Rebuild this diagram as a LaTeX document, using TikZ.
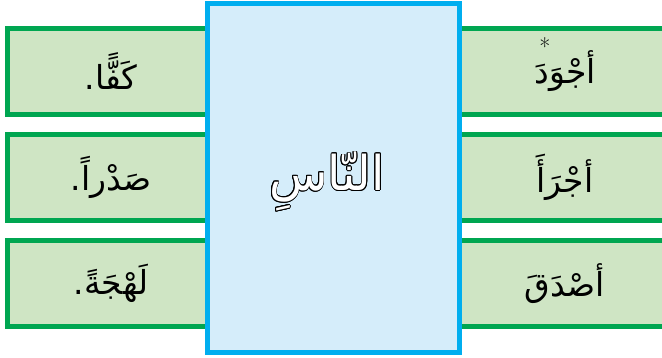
\documentclass[tikz,border=0pt]{standalone}
\usepackage{fontspec}
\usepackage{contour}
\TeXXeTstate=1
\newfontfamily\arabicfont[Script=Arabic]{DejaVu Sans}
\definecolor{gborder}{HTML}{00A651}
\definecolor{gfill}{HTML}{CFE5C4}
\definecolor{bborder}{HTML}{00AEEF}
\definecolor{bfill}{HTML}{D5EDFA}
\contourlength{0.8pt}
\contournumber{16}
\tikzset{
  wordbox/.style={draw=gborder, fill=gfill, line width=5pt, minimum height=86pt,
    inner sep=0pt, font=\arabicfont\fontsize{33}{38}\selectfont},
  leftbox/.style={wordbox, minimum width=208pt},
  rightbox/.style={wordbox, minimum width=230pt},
  centerbox/.style={draw=bborder, fill=bfill, line width=5pt, minimum width=252pt,
    minimum height=349pt, inner sep=0pt},
  centertext/.style={font=\arabicfont\fontsize{48}{52}\selectfont},
  starmark/.style={font=\fontsize{24}{26}\selectfont, inner sep=0pt}
}
\begin{document}
\begin{tikzpicture}[x=1pt,y=-1pt]
\useasboundingbox (0,0) rectangle (662,358);
\clip (0,0) rectangle (662,358);
% left boxes
\node[leftbox] (l1) at (111,71.5) {\beginR كَفًّا.\endR};
\node[leftbox] (l2) at (111,177.5) {\beginR صَدْراً.\endR};
\node[leftbox] (l3) at (111,283.5) {\beginR لَهْجَةً.\endR};
% right boxes
\node[rightbox] (r1) at (565,71.5) {\beginR أجْوَدَ\endR};
\node[rightbox] (r2) at (565,177.5) {\beginR أجْرَأَ\endR};
\node[rightbox] (r3) at (565,283.5) {\beginR أصْدَقَ\endR};
\node[starmark] (star) at (545,47) {*};
% central box
\node[centerbox] (c) at (333.5,178) {};
\node[centertext] (ct) at (327,182) {\contour{black}{\textcolor{white}{\beginR النّاسِ\endR}}};
\end{tikzpicture}
\end{document}
